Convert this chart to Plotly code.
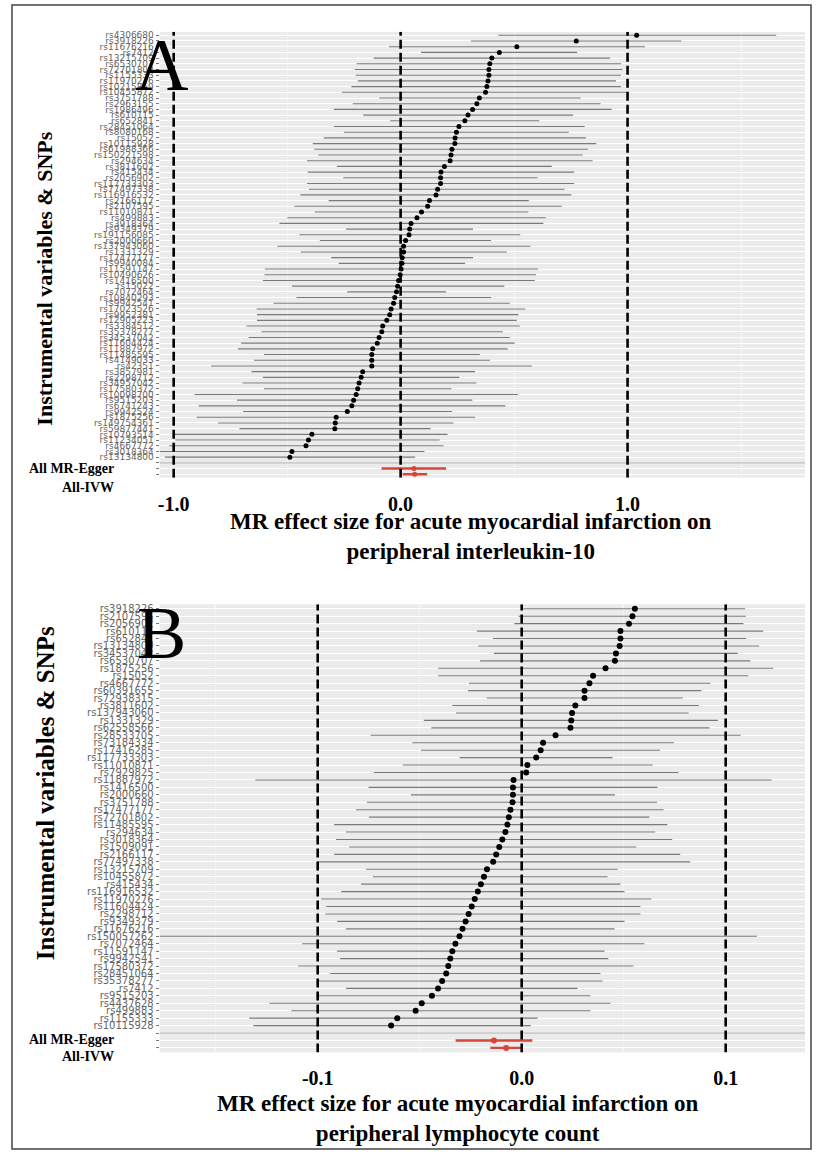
import plotly.graph_objects as go

W, H = 817, 1153

# ---------------- Panel A : interleukin-10 ----------------
A_snps = [
    "rs4306680", "rs3918226", "rs11676216", "rs7412", "rs13215709", "rs6530707", "rs72701802",
    "rs1155333", "rs11970276", "rs10215859", "rs10455872", "rs3751788", "rs2963155", "rs1986496",
    "rs610115", "rs652841", "rs28451064", "rs8080168", "rs15052", "rs10115928", "rs61988366",
    "rs150221598", "rs294634", "rs3811602", "rs415434", "rs2056902", "rs117733303", "rs77497338",
    "rs116916532", "rs2166117", "rs2107595", "rs11010871", "rs499883", "rs3918364", "rs9349379",
    "rs191156085", "rs2000660", "rs137943060", "rs1331329", "rs17477177", "rs9940084", "rs11591147",
    "rs10490626", "rs1416500", "rs15022", "rs7072464", "rs10840293", "rs9942541", "rs17023526",
    "rs9952381", "rs12905223", "rs3384512", "rs35378277", "rs34537042", "rs11604424", "rs11887972",
    "rs11485595", "rs4149033", "rs42351", "rs3857981", "rs2298712", "rs34957042", "rs17580372",
    "rs10098700", "rs9515203", "rs6741243", "rs9942524", "rs1875256", "rs149754361", "rs59877441",
    "rs10793514", "rs11234051", "rs4667772", "rs3018364", "rs13134800",
]
A_beta = [
    1.040, 0.774, 0.512, 0.435, 0.402, 0.393, 0.389, 0.389, 0.385, 0.380, 0.374, 0.347, 0.336,
    0.317, 0.297, 0.283, 0.257, 0.246, 0.240, 0.239, 0.226, 0.222, 0.218, 0.193, 0.178,
    0.176, 0.176, 0.163, 0.156, 0.127, 0.119, 0.092, 0.072, 0.046, 0.040, 0.037, 0.022, 0.013,
    0.013, 0.007, 0.006, 0.002, -0.002, -0.009, -0.013, -0.018, -0.026, -0.031, -0.042, -0.048, -0.061,
    -0.079, -0.083, -0.095, -0.103, -0.123, -0.127, -0.127, -0.127, -0.167, -0.174, -0.183, -0.189,
    -0.196, -0.207, -0.215, -0.235, -0.284, -0.288, -0.290, -0.391, -0.406, -0.417, -0.479, -0.488,
]
A_lo = [
    0.431, 0.310, -0.051, 0.090, -0.119, -0.194, -0.202, -0.198, -0.189, -0.217, -0.259, -0.094, -0.211,
    -0.294, -0.165, -0.046, -0.294, -0.250, -0.339, -0.387, -0.380, -0.363, -0.413, -0.281, -0.409,
    -0.253, -0.413, -0.404, -0.442, -0.317, -0.468, -0.378, -0.499, -0.534, -0.240, -0.446, -0.356, -0.543,
    -0.440, -0.306, -0.273, -0.598, -0.600, -0.607, -0.479, -0.235, -0.459, -0.560, -0.635, -0.633, -0.633,
    -0.679, -0.613, -0.670, -0.703, -0.717, -0.602, -0.646, -0.835, -0.657, -0.607, -0.697, -0.602,
    -0.908, -0.721, -0.890, -0.694, -0.899, -0.804, -0.710, -0.996, -0.993, -1.020, -1.061, -1.039,
]
A_hi = [
    1.655, 1.237, 1.077, 0.778, 0.923, 0.972, 0.978, 0.971, 0.949, 0.971, 0.994, 0.793, 0.881,
    0.930, 0.760, 0.611, 0.811, 0.741, 0.817, 0.862, 0.826, 0.802, 0.846, 0.666, 0.765,
    0.604, 0.765, 0.723, 0.752, 0.565, 0.710, 0.563, 0.640, 0.629, 0.319, 0.527, 0.398, 0.572,
    0.468, 0.319, 0.284, 0.606, 0.596, 0.591, 0.457, 0.200, 0.400, 0.481, 0.550, 0.519, 0.512,
    0.525, 0.450, 0.481, 0.503, 0.472, 0.349, 0.394, 0.578, 0.328, 0.259, 0.334, 0.224,
    0.517, 0.316, 0.462, 0.226, 0.328, 0.233, 0.132, 0.207, 0.172, 0.189, 0.105, 0.064,
]
A_sum_beta = [0.059, 0.062]
A_sum_lo = [-0.084, 0.009]
A_sum_hi = [0.200, 0.117]
A_breaks = [-1.0, 0.0, 1.0]
A_break_labels = ["-1.0", "0.0", "1.0"]
A_minor = [-0.5, 0.5, 1.5]
A_xtitle = "MR effect size for acute myocardial infarction on<br>peripheral interleukin-10"

# ---------------- Panel B : lymphocyte count ----------------
B_snps = [
    "rs3918226", "rs2107595", "rs2056902", "rs610115", "rs652841", "rs13134800", "rs34537042",
    "rs6530707", "rs1875256", "rs15052", "rs4667772", "rs60391655", "rs72938315", "rs3811602",
    "rs137943060", "rs1331329", "rs62558566", "rs28533705", "rs73184334", "rs17416285",
    "rs117733303", "rs11010871", "rs7929825", "rs11887972", "rs1416500", "rs2000660", "rs3751788",
    "rs17477177", "rs72701802", "rs11485595", "rs294634", "rs3018364", "rs1509091", "rs2166117",
    "rs77497338", "rs13215709", "rs10455872", "rs415434", "rs116916532", "rs11970276",
    "rs11604424", "rs2298712", "rs9349379", "rs11676216", "rs150057262", "rs7072464",
    "rs11591147", "rs9942541", "rs17580372", "rs28451064", "rs35378277", "rs7412", "rs9515203",
    "rs4437628", "rs499883", "rs1155333", "rs10115928",
]
B_beta = [
    0.0555, 0.0543, 0.0526, 0.0484, 0.0484, 0.0480, 0.0462, 0.0457, 0.0411, 0.0350, 0.0332,
    0.0308, 0.0308, 0.0263, 0.0247, 0.0243, 0.0239, 0.0166, 0.0105, 0.0093, 0.0071, 0.0028,
    0.0022, -0.0040, -0.0043, -0.0043, -0.0045, -0.0055, -0.0063, -0.0070, -0.0080, -0.0095,
    -0.0110, -0.0125, -0.0140, -0.0170, -0.0185, -0.0200, -0.0215, -0.0230, -0.0245, -0.0260,
    -0.0275, -0.0290, -0.0305, -0.0325, -0.0340, -0.0350, -0.0360, -0.0370, -0.0390, -0.0410,
    -0.0440, -0.0490, -0.0520, -0.0610, -0.0640,
]
B_lo = [
    0.0008, -0.0016, -0.0036, -0.0219, -0.0142, -0.0213, -0.0136, -0.0204, -0.0409, -0.0409, -0.0259,
    -0.0263, -0.0172, -0.0340, -0.0322, -0.0480, -0.0443, -0.0741, -0.0536, -0.0494, -0.0304, -0.0583,
    -0.0725, -0.1306, -0.0751, -0.0543, -0.0759, -0.0812, -0.0749, -0.0919, -0.0861, -0.0910,
    -0.0846, -0.0919, -0.1002, -0.0763, -0.0729, -0.0787, -0.0885, -0.0983, -0.0959, -0.0963,
    -0.0905, -0.0861, -0.1775, -0.1076, -0.0905, -0.0890, -0.1095, -0.0939, -0.0997, -0.0861,
    -0.1008, -0.1237, -0.1130, -0.1335, -0.1315,
]
B_hi = [
    0.1095, 0.1099, 0.1087, 0.1184, 0.1101, 0.1164, 0.1059, 0.1121, 0.1233, 0.1111, 0.0925,
    0.0881, 0.0789, 0.0868, 0.0818, 0.0962, 0.0921, 0.1073, 0.0747, 0.0678, 0.0445, 0.0642,
    0.0769, 0.1225, 0.0666, 0.0457, 0.0664, 0.0696, 0.0626, 0.0714, 0.0655, 0.0738,
    0.0562, 0.0777, 0.0826, 0.0470, 0.0421, 0.0484, 0.0504, 0.0635, 0.0582, 0.0582,
    0.0504, 0.0455, 0.1153, 0.0601, 0.0406, 0.0425, 0.0548, 0.0386, 0.0396, 0.0274,
    0.0337, 0.0435, 0.0337, 0.0078, 0.0044,
]
B_sum_beta = [-0.0136, -0.0076]
B_sum_lo = [-0.0324, -0.0154]
B_sum_hi = [0.0052, 0.0000]
B_breaks = [-0.1, 0.0, 0.1]
B_break_labels = ["-0.1", "0.0", "0.1"]
B_minor = [-0.15, -0.05, 0.05]
B_xtitle = "MR effect size for acute myocardial infarction on<br>peripheral lymphocyte count"

SUM_CATS = ["All - MR Egger", "All - Inverse variance weighted"]
SUM_TEXT = ["All MR-Egger", "All-IVW"]
BLANK = " "

SERIF = "Liberation Serif, Times New Roman, serif"
SANS = "DejaVu Sans, Arial, sans-serif"
RED = "#D9453B"

fig = go.Figure()


def px_x(v):
    return v / W


def px_y(v):
    return 1 - v / H


panels = [
    dict(key="", snps=A_snps, beta=A_beta, lo=A_lo, hi=A_hi,
         sb=A_sum_beta, sl=A_sum_lo, sh=A_sum_hi, breaks=A_breaks, blabels=A_break_labels,
         minor=A_minor, xrange=[-1.062, 1.782], top=30.9, bottom=477.1, tickfs=9,
         letter="A", letter_y=64, ytitle_y=278, ytitle_fs=22, xtitle=A_xtitle, xtitle_x=470,
         xtitle_y=536, sum_y=[468, 487], msize=5),
    dict(key="2", snps=B_snps, beta=B_beta, lo=B_lo, hi=B_hi,
         sb=B_sum_beta, sl=B_sum_lo, sh=B_sum_hi, breaks=B_breaks, blabels=B_break_labels,
         minor=B_minor, xrange=[-0.1775, 0.1389], top=603.8, bottom=1052.3, tickfs=10,
         letter="B", letter_y=633, ytitle_y=793, ytitle_fs=25, xtitle=B_xtitle, xtitle_x=457,
         xtitle_y=1118, sum_y=[1039, 1056], msize=6),
]

shapes = []
annotations = []
for p in panels:
    k = p["key"]
    xa, ya = "x" + k, "y" + k
    cats = list(reversed(SUM_CATS)) + [BLANK] + list(reversed(p["snps"]))
    ticktext = ["" if c in SUM_CATS or c == BLANK else c for c in cats]

    fig.add_trace(go.Scatter(
        x=p["beta"], y=p["snps"], mode="markers", xaxis=xa, yaxis=ya,
        marker=dict(color="black", size=p["msize"]),
        error_x=dict(type="data", symmetric=False,
                     array=[h - b for h, b in zip(p["hi"], p["beta"])],
                     arrayminus=[b - l for b, l in zip(p["beta"], p["lo"])],
                     width=0, color="#7A7A7A", thickness=1.1),
        showlegend=False, hoverinfo="x+y"))
    fig.add_trace(go.Scatter(
        x=p["sb"], y=SUM_CATS, mode="markers", xaxis=xa, yaxis=ya,
        marker=dict(color=RED, size=p["msize"]),
        error_x=dict(type="data", symmetric=False,
                     array=[h - b for h, b in zip(p["sh"], p["sb"])],
                     arrayminus=[b - l for b, l in zip(p["sb"], p["sl"])],
                     width=0, color=RED, thickness=2.4),
        showlegend=False, hoverinfo="x+y"))

    dom_x = [px_x(158), px_x(805)]
    dom_y = [px_y(p["bottom"]), px_y(p["top"])]
    fig.update_layout(**{
        "xaxis" + k: dict(domain=dom_x, range=p["xrange"], anchor=ya,
                          tickmode="array", tickvals=p["breaks"], ticktext=p["blabels"],
                          tickfont=dict(family=SERIF, size=20, color="black", weight="bold"),
                          ticks="", ticklabelstandoff=12, showgrid=False,
                          zeroline=False, showline=False,
                          minor=dict(tickvals=p["minor"], showgrid=True, gridcolor="#F4F4F4",
                                     gridwidth=0.6, ticks="")),
        "yaxis" + k: dict(domain=dom_y, type="category", categoryorder="array",
                          categoryarray=cats, range=[-0.6, len(cats) - 1 + 0.6], anchor=xa,
                          tickmode="array", tickvals=cats, ticktext=ticktext,
                          tickfont=dict(family=SANS, size=p["tickfs"], color="#666666"),
                          ticks="outside", ticklen=3, tickcolor="#777", tickwidth=0.6,
                          showgrid=True, gridcolor="white", gridwidth=1.2,
                          zeroline=False, showline=False),
    })

    sep = cats.index(BLANK)
    shapes.append(dict(type="line", xref=xa, yref=ya, x0=p["xrange"][0], x1=p["xrange"][1],
                       y0=sep, y1=sep, line=dict(color="#BDBDBD", width=1.3), layer="above"))
    for b in p["breaks"]:
        shapes.append(dict(type="line", xref=xa, yref=ya, x0=b, x1=b,
                           y0=-0.6, y1=len(cats) - 1 + 0.6,
                           line=dict(color="black", width=2.6, dash="9px,4px"), layer="above"))

    annotations.append(dict(text=p["letter"], xref="paper", yref="paper", x=px_x(160),
                            y=px_y(p["letter_y"]), showarrow=False, xanchor="center",
                            yanchor="middle", font=dict(family=SERIF, size=74, color="black")))
    annotations.append(dict(text="Instrumental variables & SNPs", xref="paper", yref="paper",
                            x=px_x(43), y=px_y(p["ytitle_y"]), textangle=-90, showarrow=False,
                            xanchor="center", yanchor="middle",
                            font=dict(family=SERIF, size=p["ytitle_fs"], color="black",
                                      weight="bold")))
    annotations.append(dict(text=p["xtitle"], xref="paper", yref="paper",
                            x=px_x(p["xtitle_x"]), y=px_y(p["xtitle_y"]), showarrow=False,
                            xanchor="center", yanchor="middle",
                            font=dict(family=SERIF, size=23, color="black", weight="bold")))
    for txt, yy in zip(SUM_TEXT, p["sum_y"]):
        annotations.append(dict(text=txt, xref="paper", yref="paper", x=px_x(114), y=px_y(yy),
                                showarrow=False, xanchor="right", yanchor="middle",
                                font=dict(family=SERIF, size=14, color="black", weight="bold")))

shapes.append(dict(type="rect", xref="paper", yref="paper", x0=px_x(10), x1=px_x(811),
                   y0=px_y(1149), y1=px_y(4), line=dict(color="#444", width=1.5)))

fig.update_layout(width=W, height=H, margin=dict(l=0, r=0, t=0, b=0),
                  paper_bgcolor="white", plot_bgcolor="#EBEBEB",
                  shapes=shapes, annotations=annotations, showlegend=False)

fig.write_html("out.html", config={"displayModeBar": False},
               post_script="document.body.style.margin='0';document.body.style.overflow='hidden';")
